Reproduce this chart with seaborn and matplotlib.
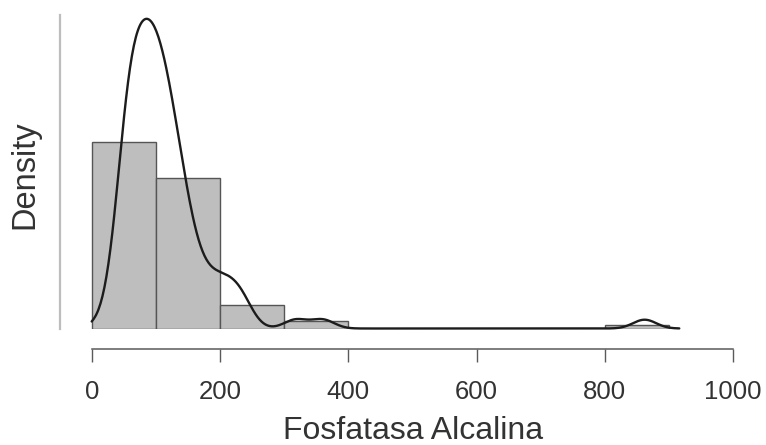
import numpy as np
import matplotlib
matplotlib.use("Agg")
import matplotlib.pyplot as plt
import seaborn as sns

# Alkaline phosphatase measurements (U/L)
fosfatasa = [
    22,
    43, 44, 46, 47, 48, 50, 51, 52, 53, 55, 56, 57, 58, 60, 61, 62,
    64, 65, 66, 67, 69, 70, 71, 72, 74, 75, 76, 78, 79, 80, 81, 83,
    84, 85, 86, 88, 89, 90, 92, 93, 94, 95, 96, 97, 98, 99,
    101, 102, 103, 105, 106, 107, 109, 110, 111, 113, 114,
    116, 117, 119, 120, 122, 123, 125, 126, 128, 130, 132, 134, 136,
    138, 140, 142, 145, 148, 151, 155, 159, 163,
    168, 176, 183, 190, 197,
    203, 211, 218, 226, 233, 241,
    318, 360,
    862,
]

bin_edges = [0, 100, 200, 300, 400, 500, 600, 700, 800, 900]
x_ticks = [0, 200, 400, 600, 800, 1000]
x_label = "Fosfatasa Alcalina"
y_label = "Density"

KDE_BANDWIDTH = 18.0   # kernel standard deviation, in data units
Y_TOP = 0.0084

sns.set_theme(style="white")
plt.rcParams["font.family"] = ["Liberation Sans", "DejaVu Sans"]

W, H = 766, 445
PX = 72 / 100  # points per pixel at 100 dpi
fig = plt.figure(figsize=(W / 100, H / 100), dpi=100)
ax = fig.add_axes([60 / W, 116.5 / H, 706 / W, 313.5 / H])

values = np.asarray(fosfatasa, dtype=float)

sns.histplot(x=values, bins=bin_edges, stat="density", color="#bebebe",
             edgecolor="#555555", linewidth=1.0, alpha=1.0, ax=ax)

bw_factor = KDE_BANDWIDTH / values.std(ddof=1)
sns.kdeplot(x=values, bw_method=bw_factor, cut=3, clip=(0, None),
            gridsize=600, color="#1c1c1c", linewidth=1.7, ax=ax)
for ln in ax.lines:
    ln.set_clip_on(False)

ax.set_xlim(-49.4, 1051.2)
ax.set_ylim(0, Y_TOP)

for side in ("top", "right"):
    ax.spines[side].set_visible(False)
ax.spines["bottom"].set_position(("outward", 20.5 * PX))
ax.spines["bottom"].set_bounds(0, 1000)
ax.spines["bottom"].set_color("#5a5a5a")
ax.spines["bottom"].set_linewidth(1.1)
ax.spines["left"].set_bounds(0, Y_TOP)
ax.spines["left"].set_color("#bdbdbd")
ax.spines["left"].set_linewidth(1.6)

ax.set_xticks(x_ticks)
ax.set_xticklabels([str(t) for t in x_ticks])
ax.tick_params(axis="x", bottom=True, direction="out", length=12.7 * PX,
               width=1.0, color="#5a5a5a", labelsize=18.5,
               labelcolor="#333333", pad=18 * PX)
ax.set_yticks([])

ax.set_xlabel(x_label, fontsize=23, color="#333333", labelpad=12 * PX)
ax.set_ylabel(y_label, fontsize=23.5, color="#333333")
ax.yaxis.set_label_coords(-0.0283, 0.4896)

fig.savefig("out.png", dpi=100, facecolor="white")
